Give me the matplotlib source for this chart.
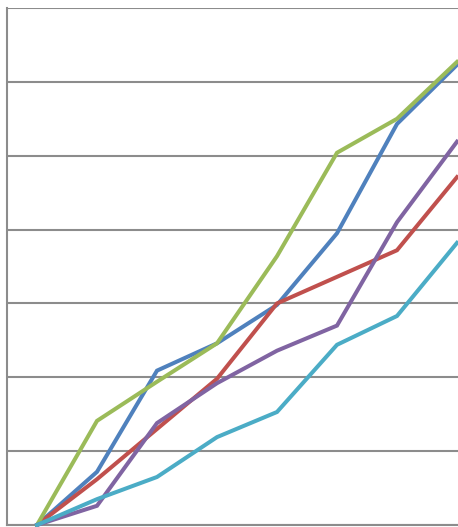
import matplotlib
matplotlib.use("Agg")
import matplotlib.pyplot as plt

# category positions (no labels visible in the crop)
steps = [0, 1, 2, 3, 4, 5, 6, 7]

# series values, in gridline units (one gridline = 1)
blue = [0, 0.72, 2.09, 2.46, 2.98, 3.95, 5.43, 6.23]
red = [0, 0.62, 1.30, 1.98, 3.00, 3.36, 3.72, 4.71]
green = [0, 1.41, 1.94, 2.46, 3.64, 5.04, 5.50, 6.27]
purple = [0, 0.26, 1.38, 1.92, 2.36, 2.70, 4.10, 5.19]
cyan = [0, 0.35, 0.65, 1.19, 1.53, 2.44, 2.83, 3.82]

SERIES = [
    (blue, "#4F81BD"),
    (red, "#C0504D"),
    (green, "#9BBB59"),
    (purple, "#8064A2"),
    (cyan, "#4BACC6"),
]

W, H = 458, 527
fig = plt.figure(figsize=(W / 100, H / 100), dpi=100)
# plot area: left edge x=7px, top gridline y=8px, bottom axis y=525px
ax = fig.add_axes([7 / W, 2 / H, (W - 7) / W, 517 / H])

for vals, color in SERIES:
    ax.plot(steps, vals, color=color, lw=2.9, solid_joinstyle="miter",
            clip_on=False, zorder=3)

ax.set_ylim(0, 7)
ax.set_xlim(-0.5, (W - 7) / 60 - 0.5)
ax.set_yticks(range(0, 8))
ax.yaxis.grid(True, color="#8c8c8c", lw=1.5)
ax.set_axisbelow(True)
ax.tick_params(left=False, bottom=False, labelleft=False, labelbottom=False)
for side in ("top", "right"):
    ax.spines[side].set_visible(False)
for side in ("left", "bottom"):
    ax.spines[side].set_color("#8c8c8c")
    ax.spines[side].set_linewidth(1.5)

fig.savefig("out.png", dpi=100)
